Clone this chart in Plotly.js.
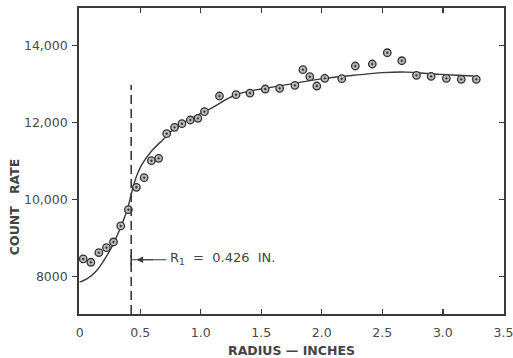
<!DOCTYPE html>
<html>
<head>
<meta charset="utf-8">
<script src="https://cdn.plot.ly/plotly-3.0.1.min.js"></script>
<style>html,body{margin:0;padding:0;background:#fff;}#chart{width:513px;height:358px;}</style>
</head>
<body>
<div id="chart"></div>
<script>
// Measured points (radius in inches, count rate)
const radius = [0.030, 0.093, 0.159, 0.222, 0.280, 0.340, 0.403, 0.469, 0.533, 0.593,
  0.653, 0.719, 0.784, 0.845, 0.914, 0.977, 1.031, 1.155, 1.292, 1.407,
  1.533, 1.652, 1.778, 1.844, 1.901, 1.959, 2.025, 2.165, 2.277, 2.417,
  2.541, 2.661, 2.782, 2.903, 3.029, 3.152, 3.276];
const countRate = [8460, 8374, 8623, 8753, 8901, 9317, 9740, 10322, 10571, 11013,
  11075, 11714, 11880, 11974, 12070, 12114, 12286, 12694, 12727, 12771,
  12875, 12894, 12971, 13377, 13195, 12953, 13153, 13143, 13473, 13525,
  13818, 13610, 13231, 13205, 13153, 13127, 13127];

// Fitted curve
const curveX = [0.0, 0.06, 0.13, 0.2, 0.27, 0.34, 0.395, 0.428, 0.46, 0.51,
  0.593, 0.689, 0.78, 0.949, 1.086, 1.292, 1.533, 1.778, 2.025, 2.321, 2.5, 2.7, 2.9, 3.08, 3.253];
const curveY = [7860, 7940, 8120, 8420, 8800, 9290, 9760, 10160, 10520, 10890,
  11260, 11560, 11840, 12156, 12374, 12727, 12894, 13023, 13153, 13250, 13300, 13315, 13270, 13240, 13213];

// Axis ticks
const xTickVals = [0, 0.5, 1.0, 1.5, 2.0, 2.5, 3.0, 3.5];
const xTickText = ['0', '0.5', '1.0', '1.5', '2.0', '2.5', '3.0', '3.5'];
const yTickVals = [8000, 10000, 12000, 14000];
const yTickText = ['8000', '10,000', '12,000', '14,000'];

// Annotation values
const r1 = 0.426;
const r1Label = 'R<sub>1</sub>\u00A0 = \u00A00.426\u00A0 IN.';

const ink = '#3a3a3a';
const xRange = [-0.005, 3.505];
const yRange = [7030, 14980];

const traces = [
  {
    x: curveX, y: curveY, type: 'scatter', mode: 'lines',
    line: {color: ink, width: 1.4, shape: 'spline', smoothing: 1.2},
    hoverinfo: 'skip', showlegend: false
  },
  {
    x: radius, y: countRate, type: 'scatter', mode: 'markers',
    marker: {symbol: 'circle-dot', size: 7.5, color: '#b8b8b8', line: {color: '#333', width: 1.3}},
    showlegend: false
  },
  {
    x: [0], y: [8000], yaxis: 'y2', type: 'scatter', mode: 'markers',
    marker: {opacity: 0}, hoverinfo: 'skip', showlegend: false
  }
];

const layout = {
  width: 513, height: 358,
  margin: {l: 79, r: 9, t: 8, b: 44},
  paper_bgcolor: '#fff', plot_bgcolor: '#fff',
  font: {family: 'DejaVu Sans', color: '#444', size: 12.5},
  xaxis: {
    range: xRange, tickvals: xTickVals, ticktext: xTickText,
    ticks: 'inside', ticklen: 5, tickwidth: 1.3, tickcolor: ink,
    showline: true, linecolor: ink, linewidth: 1.8, mirror: 'ticks',
    showgrid: false, zeroline: false,
    tickfont: {family: 'DejaVu Sans', size: 12.5, color: '#4a4a4a'},
    ticklabelstandoff: 6, ticklabeloverflow: 'allow'
  },
  yaxis: {
    range: yRange, tickvals: yTickVals, ticktext: yTickText,
    ticks: 'outside', ticklen: 5, tickwidth: 1.3, tickcolor: ink,
    showline: true, linecolor: ink, linewidth: 1.8,
    showgrid: false, zeroline: false,
    tickfont: {family: 'DejaVu Sans', size: 12.5, color: '#4a4a4a'},
    ticklabelstandoff: 2
  },
  yaxis2: {
    overlaying: 'y', side: 'right', anchor: 'x',
    range: yRange, tickvals: yTickVals, showticklabels: false,
    ticks: 'inside', ticklen: 5, tickwidth: 1.3, tickcolor: ink,
    showline: true, linecolor: ink, linewidth: 1.8,
    showgrid: false, zeroline: false
  },
  shapes: [
    {type: 'line', xref: 'x', yref: 'y', x0: r1, x1: r1, y0: yRange[0], y1: 12980,
     line: {color: ink, width: 1.6, dash: '9px,5px'}},
    {type: 'line', xref: 'x', yref: 'y', x0: r1, x1: r1, y0: 8300, y1: 8560,
     line: {color: ink, width: 1.6}},
    {type: 'line', xref: 'x', yref: 'y', x0: r1, x1: 0.716, y0: 8440, y1: 8440,
     line: {color: ink, width: 1.2}}
  ],
  annotations: [
    {x: 0.47, y: 8440, xref: 'x', yref: 'y', ax: 0.62, ay: 8440, axref: 'x', ayref: 'y',
     text: '', showarrow: true, arrowhead: 2, arrowsize: 1.1, arrowwidth: 1.2, arrowcolor: ink},
    {x: 0.733, y: 8470, xref: 'x', yref: 'y', xanchor: 'left', yanchor: 'middle',
     text: r1Label, showarrow: false,
     font: {family: 'DejaVu Sans', size: 13, color: '#444'}},
    {x: 0.5, y: -0.118, xref: 'paper', yref: 'paper', xanchor: 'center', yanchor: 'middle',
     text: 'RADIUS \u2014 INCHES', showarrow: false,
     font: {family: 'DejaVu Sans', size: 12.5, color: '#444', weight: 'bold'}},
    {x: -0.152, y: 0.449, xref: 'paper', yref: 'paper', xanchor: 'center', yanchor: 'middle',
     text: 'RATE', textangle: -90, showarrow: false,
     font: {family: 'DejaVu Sans', size: 12.5, color: '#444', weight: 'bold'}},
    {x: -0.152, y: 0.272, xref: 'paper', yref: 'paper', xanchor: 'center', yanchor: 'middle',
     text: 'COUNT', textangle: -90, showarrow: false,
     font: {family: 'DejaVu Sans', size: 12.5, color: '#444', weight: 'bold'}}
  ]
};

Plotly.newPlot('chart', traces, layout, {staticPlot: true, displayModeBar: false});
</script>
</body>
</html>
